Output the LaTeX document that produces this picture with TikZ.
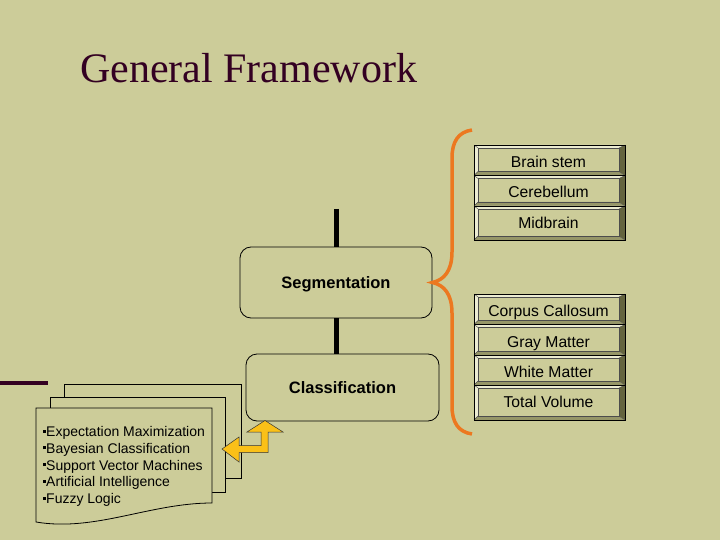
\documentclass[tikz,border=0pt]{standalone}
\usepackage{fontspec}
\setmainfont{Liberation Sans}
\newfontfamily\titlefont{Liberation Serif}
\definecolor{bg}{RGB}{204,204,153}
\definecolor{titlec}{RGB}{51,0,34}
\definecolor{bevlight}{RGB}{236,236,210}
\definecolor{bevdark}{RGB}{100,100,62}
\definecolor{bevmid}{RGB}{150,150,104}
\definecolor{bracec}{RGB}{236,120,32}
\definecolor{arrowc}{RGB}{250,192,24}
\tikzset{
  celltext/.style={font=\fontsize{15.7}{18}\selectfont, inner sep=0pt, anchor=base},
  rbox/.style={draw=black, line width=0.8pt, rounded corners=11pt, fill=bg,
     font=\fontsize{16.5}{19}\selectfont\bfseries, inner sep=0pt,
     text height=12pt, text depth=0pt},
  stem/.style={line width=5pt, black},
  sheet/.style={draw=black, line width=0.8pt, fill=bg},
  listtext/.style={font=\fontsize{14}{16}\selectfont, anchor=base west, inner sep=0pt},
}
\newcommand\bul{\rule[4pt]{3pt}{3pt}}
\newcommand\bcell[6]{%
  \fill[bevlight] (#2,#3) -- (#4,#3) -- ({#4-6},{#3+3}) -- ({#2+4},{#3+3}) -- cycle;
  \fill[bevlight] (#2,#3) -- ({#2+4},{#3+3}) -- ({#2+4},{#5-4}) -- (#2,#5) -- cycle;
  \fill[bevdark] (#4,#3) -- (#4,#5) -- ({#4-6},{#5-4}) -- ({#4-6},{#3+3}) -- cycle;
  \fill[bevmid] (#2,#5) -- (#4,#5) -- ({#4-6},{#5-4}) -- ({#2+4},{#5-4}) -- cycle;
  \draw[line width=0.4pt, black!70] ({#2+4},{#3+3}) rectangle ({#4-6},{#5-4});
  \draw[line width=0.4pt, black!70] (#2,#3) -- ({#2+4},{#3+3}) (#4,#3) -- ({#4-6},{#3+3})
     (#2,#5) -- ({#2+4},{#5-4}) (#4,#5) -- ({#4-6},{#5-4});
  \draw[line width=0.8pt, black] (#2,#3) rectangle (#4,#5);
  \node[celltext] (#1) at ({(#2+#4)/2-1},{#3+22.5}) {#6};
}
\begin{document}
\begin{tikzpicture}[x=1pt,y=-1pt]
\fill[bg] (0,0) rectangle (720,540);
\useasboundingbox (0,0) rectangle (720,540);

% title
\node[anchor=base west, inner sep=0pt, text=titlec,
      font=\titlefont\fontsize{42}{48}\selectfont] (title) at (80,83) {General Framework};

% stems and main boxes
\node[rbox, minimum width=192pt, minimum height=71pt] (seg) at (336,282.5) {Segmentation};
\node[rbox, minimum width=193pt, minimum height=67pt] (cls) at (342.5,387.5) {Classification};
\coordinate (stemtop) at (336,209);
\draw[stem] (stemtop) -- (seg.north);
\draw[stem] (seg.south) -- (seg.south |- cls.north);

% maroon line at left
\coordinate (ml1) at (0,383);
\coordinate (ml2) at (48,383);
\draw[line width=4pt, titlec] (ml1) -- (ml2);

% brace
\coordinate (btop) at (472,130);
\coordinate (bbot) at (472,434);
\draw[bracec, line width=3.5pt]
  (btop) .. controls (458,132) and (452,142) .. (452,158) -- (452,252)
  .. controls (452,271) and (444,280) .. (seg.east)
  .. controls (444,285) and (452,294) .. (452,313) -- (452,406)
  .. controls (452,422) and (458,432) .. (bbot);

% bevel cells
\bcell{c1}{474}{145}{625}{175.5}{Brain stem}
\bcell{c2}{474}{175.5}{625}{206}{Cerebellum}
\bcell{c3}{474}{206}{625}{240}{Midbrain}
\bcell{c4}{474}{294}{625}{324.5}{Corpus Callosum}
\bcell{c5}{474}{324.5}{625}{355}{Gray Matter}
\bcell{c6}{474}{355}{625}{385}{White Matter}
\bcell{c7}{474}{385}{625}{420}{Total Volume}

% document stack
\draw[sheet] (64,384) rectangle (241,478);
\draw[sheet] (50,397) rectangle (225,492);
\draw[sheet] (36,408) -- (212,408) -- (212,503)
   .. controls (150,503) and (95,532) .. (36,522) -- cycle;
\node[listtext] (l1) at (43,436.7) {\bul Expectation Maximization};
\node[listtext] (l2) at (43,453.4) {\bul Bayesian Classification};
\node[listtext] (l3) at (43,470.1) {\bul Support Vector Machines};
\node[listtext] (l4) at (43,486.8) {\bul Artificial Intelligence};
\node[listtext] (l5) at (43,503.5) {\bul Fuzzy Logic};

% bent double arrow
\draw[fill=arrowc, draw=black!80, line width=0.5pt]
  (222,449) -- (239,437) -- (239,445.5) -- (261,445.5) -- (261,432) -- (247,432)
  -- (265,420.5) -- (283,432) -- (268,432) -- (268,452.5) -- (239,452.5) -- (239,462) -- cycle;
\end{tikzpicture}
\end{document}
